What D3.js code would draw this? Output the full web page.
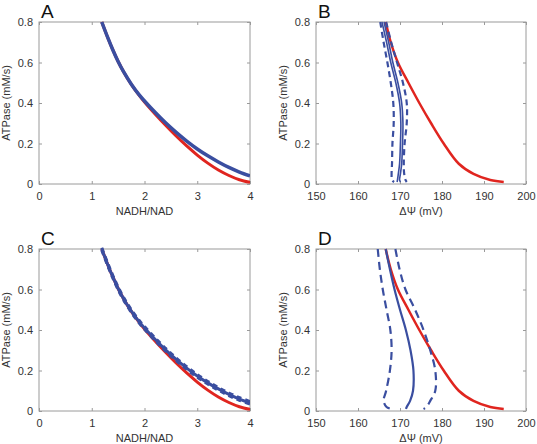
<!DOCTYPE html>
<html><head><meta charset="utf-8">
<script src="https://cdn.jsdelivr.net/npm/d3@7"></script>
<style>body{margin:0;background:#fff}svg{display:block}</style>
</head><body>
<script>
// ---------- data ----------
const nadhTicks = [0, 1, 2, 3, 4];
const psiTicks = [150, 160, 170, 180, 190, 200];
const atpTicks = [0, 0.2, 0.4, 0.6, 0.8];

const nadhX   = [1.19, 1.3, 1.4, 1.5, 1.6, 1.75, 1.9, 2.0, 2.2, 2.4, 2.6, 2.8, 3.0, 3.2, 3.4, 3.6, 3.8, 4.0];
const redNadh = [0.8, 0.725, 0.662, 0.605, 0.556, 0.492, 0.438, 0.405, 0.346, 0.29, 0.237, 0.188, 0.143, 0.103, 0.069, 0.042, 0.021, 0.008];
const blueA   = [0.8, 0.725, 0.662, 0.605, 0.556, 0.493, 0.44, 0.41, 0.354, 0.302, 0.255, 0.212, 0.173, 0.139, 0.109, 0.082, 0.059, 0.04];
const blueC   = [0.8, 0.725, 0.662, 0.605, 0.556, 0.493, 0.44, 0.41, 0.354, 0.302, 0.255, 0.212, 0.173, 0.139, 0.109, 0.082, 0.059, 0.04];
const blueCHi = [0.806, 0.732, 0.669, 0.612, 0.563, 0.5, 0.447, 0.417, 0.361, 0.309, 0.262, 0.219, 0.18, 0.146, 0.116, 0.089, 0.066, 0.047];
const blueCLo = [0.794, 0.719, 0.656, 0.599, 0.55, 0.487, 0.434, 0.404, 0.348, 0.296, 0.249, 0.206, 0.167, 0.133, 0.103, 0.076, 0.053, 0.034];

const redAtp  = [0.8, 0.7, 0.6, 0.5, 0.4, 0.3, 0.2, 0.1, 0.05, 0.02, 0.01];
const redPsi  = [166.6, 167.8, 169.5, 172.0, 174.6, 177.4, 180.4, 184.0, 187.5, 191.5, 194.7];

const blueAtp = [0.8, 0.7, 0.6, 0.5, 0.4, 0.3, 0.2, 0.1, 0.05, 0.02, 0.01];
const bSolid1 = [165.7, 166.8, 167.8, 169.0, 169.9, 170.2, 170.1, 169.9, 169.6, 169.4, 169.3];
const bSolid2 = [166.2, 167.3, 168.3, 169.5, 170.4, 170.7, 170.6, 170.4, 170.1, 169.9, 170.1];
const bDashL  = [165.3, 166.1, 167.0, 167.8, 168.4, 168.5, 168.2, 168.1, 168.0, 168.1, 168.6];
const bDashR  = [166.7, 167.9, 169.3, 170.7, 171.6, 171.6, 171.1, 170.9, 171.0, 171.3, 171.6];

const dSolid  = [166.6, 167.6, 168.7, 170.0, 171.4, 172.5, 173.2, 173.1, 172.4, 171.6, 171.4];
const dDashL  = [164.7, 165.2, 165.9, 166.8, 167.7, 168.0, 167.6, 166.7, 166.1, 166.8, 168.0];
const dDashR  = [168.9, 169.9, 171.3, 173.6, 175.6, 177.2, 178.4, 178.4, 177.2, 176.3, 175.6];

// ---------- drawing ----------
const W = 537, H = 444;
const RED = "#e0251f", BLUE = "#3a4ea0";
const svg = d3.select("body").append("svg").attr("width", W).attr("height", H)
  .style("font-family", "'Liberation Sans', Arial, sans-serif");

function panel(opt) {
  const {left, right, top, bottom, xDomain, xTicks, xLabel, letter} = opt;
  const x = d3.scaleLinear().domain(xDomain).range([left, right]);
  const y = d3.scaleLinear().domain([0, 0.8]).range([bottom, top]);
  const g = svg.append("g");
  g.append("rect").attr("x", left).attr("y", top).attr("width", right - left).attr("height", bottom - top)
    .attr("fill", "none").attr("stroke", "#9a9a9a").attr("stroke-width", 1);
  const tl = 3;
  const axB = d3.axisBottom(x).tickValues(xTicks).tickSize(-tl).tickPadding(8).tickFormat(d3.format("d"));
  const axT = d3.axisTop(x).tickValues(xTicks).tickSize(-tl).tickFormat("");
  const axL = d3.axisLeft(y).tickValues(atpTicks).tickSize(-tl).tickPadding(6).tickFormat(d => d === 0 ? "0" : d3.format(".1f")(d));
  const axR = d3.axisRight(y).tickValues(atpTicks).tickSize(-tl).tickFormat("");
  [[axB, `translate(0,${bottom})`], [axT, `translate(0,${top})`], [axL, `translate(${left},0)`], [axR, `translate(${right},0)`]]
    .forEach(([ax, tr]) => {
      const a = g.append("g").attr("transform", tr).call(ax);
      a.select(".domain").remove();
      a.selectAll("line").attr("stroke", "#9a9a9a");
      a.selectAll("text").attr("fill", "#333").style("font-size", "11px");
    });
  g.append("text").attr("x", (left + right) / 2).attr("y", bottom + 31).attr("text-anchor", "middle")
    .attr("fill", "#333").style("font-size", "11px").text(xLabel);
  g.append("text").attr("transform", `translate(${left - 29},${(top + bottom) / 2}) rotate(-90)`)
    .attr("text-anchor", "middle").attr("fill", "#333").style("font-size", "11px").text("ATPase (mM/s)");
  g.append("text").attr("x", left + 2).attr("y", top - 4).attr("fill", "#111").style("font-size", "19px").text(letter);
  const clipId = "clip" + letter;
  svg.append("clipPath").attr("id", clipId).append("rect").attr("x", left).attr("y", top - 2)
    .attr("width", right - left).attr("height", bottom - top + 2);
  const lines = g.append("g").attr("clip-path", `url(#${clipId})`);
  return {x, y, lines};
}

function drawXY(p, xs, ys, color, width, dash) {
  const pts = xs.map((v, i) => [v, ys[i]]);
  const line = d3.line().x(d => p.x(d[0])).y(d => p.y(d[1])).curve(d3.curveCatmullRom);
  p.lines.append("path").datum(pts).attr("d", line).attr("fill", "none").attr("stroke", color)
    .attr("stroke-width", width).attr("stroke-dasharray", dash || null);
}

const pA = panel({left: 39, right: 250, top: 22, bottom: 184, xDomain: [0, 4], xTicks: nadhTicks, xLabel: "NADH/NAD", letter: "A"});
drawXY(pA, nadhX, redNadh, RED, 3);
drawXY(pA, nadhX, blueA, BLUE, 3.5);

const pB = panel({left: 316, right: 526, top: 22, bottom: 184, xDomain: [150, 200], xTicks: psiTicks, xLabel: "ΔΨ (mV)", letter: "B"});
drawXY(pB, redPsi, redAtp, RED, 2.5);
drawXY(pB, bDashL, blueAtp, BLUE, 2.2, "6,4");
drawXY(pB, bDashR, blueAtp, BLUE, 2.2, "6,4");
drawXY(pB, bSolid1, blueAtp, BLUE, 1.6);
drawXY(pB, bSolid2, blueAtp, BLUE, 1.6);

const pC = panel({left: 39, right: 250, top: 249, bottom: 411, xDomain: [0, 4], xTicks: nadhTicks, xLabel: "NADH/NAD", letter: "C"});
drawXY(pC, nadhX, redNadh, RED, 3);
drawXY(pC, nadhX, blueC, BLUE, 3);
drawXY(pC, nadhX, blueCHi, BLUE, 3, "5,4");
drawXY(pC, nadhX, blueCLo, BLUE, 3, "5,4");

const pD = panel({left: 316, right: 526, top: 249, bottom: 411, xDomain: [150, 200], xTicks: psiTicks, xLabel: "ΔΨ (mV)", letter: "D"});
drawXY(pD, redPsi, redAtp, RED, 2.5);
drawXY(pD, dSolid, blueAtp, BLUE, 2.2);
drawXY(pD, dDashL, blueAtp, BLUE, 2.2, "8,5");
drawXY(pD, dDashR, blueAtp, BLUE, 2.2, "8,5");
</script>
</body></html>
